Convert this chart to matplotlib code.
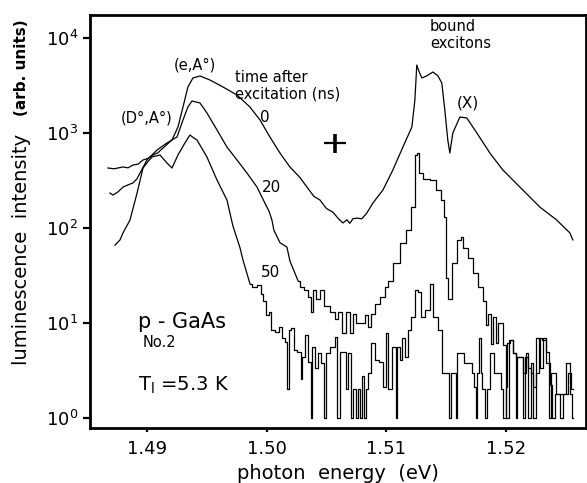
#!/usr/bin/env python
# coding: utf-8

# Time-resolved luminescence spectra of p-GaAs (sample No.2) at 5.3 K

import numpy             as np
import matplotlib        as mpl
mpl.use("Agg")
import matplotlib.pyplot as plt


# Spectrum right after excitation (0 ns)
energy_0ns = [1.48674, 1.48725, 1.48800, 1.48842, 1.48883, 1.48925, 1.48967,
              1.49008, 1.49050, 1.49092, 1.49134, 1.49209,
              1.49259, 1.49301, 1.49342, 1.49384, 1.49443, 1.49526, 1.49635,
              1.49752, 1.49860, 1.49944, 1.50027, 1.50111, 1.50194, 1.50278,
              1.50336, 1.50395, 1.50445, 1.50500, 1.50553, 1.50600, 1.50637,
              1.50670, 1.50695, 1.50720, 1.50754, 1.50795, 1.50837,
              1.50887, 1.50971, 1.51054, 1.51138, 1.51213, 1.51238, 1.51254,
              1.51271, 1.51296, 1.51338, 1.51388, 1.51430, 1.51463, 1.51488,
              1.51513, 1.51530, 1.51555, 1.51614, 1.51672, 1.51756, 1.51864,
              1.51973, 1.52140, 1.52282, 1.52424, 1.52490, 1.52532, 1.52557]
counts_0ns = [428, 420, 439, 430, 460, 470, 520,
              540, 587, 620, 695, 844,
              1157, 1878, 3050, 3793, 3981, 3613, 3050,
              2512, 1878, 1371, 908, 616, 439, 340,
              270, 215, 197, 160, 147, 125, 113,
              122, 112, 125, 127, 125, 144,
              183, 251, 408, 712, 1157, 2225, 5196,
              4500, 3793, 4000, 4385, 4000, 3360, 1746,
              844, 616, 1000, 1473, 1438, 1000, 616,
              408, 251, 166, 121, 100, 89, 75]

# 20 ns after excitation: smooth part and noisy tail
energy_20ns = [1.48691, 1.48716, 1.48758, 1.48800, 1.48858, 1.48883, 1.48917,
               1.48942, 1.49000, 1.49084, 1.49167, 1.49251, 1.49301, 1.49342,
               1.49376, 1.49443, 1.49501, 1.49585, 1.49668, 1.49752, 1.49835,
               1.49919, 1.49985, 1.50020, 1.50044, 1.50060, 1.50111, 1.50169,
               1.50194, 1.50261]
counts_20ns = [233, 222, 240, 270, 290, 298, 330,
               379, 520, 662, 785, 908, 1371, 1878,
               2173, 2070, 1624, 1076, 712, 520, 379,
               270, 183, 150, 121, 95, 70, 63,
               45, 28]

energy_20ns_tail = [1.50261, 1.50294, 1.50328, 1.50361, 1.50378, 1.50403, 1.50428,
                    1.50461, 1.50503, 1.50553, 1.50586, 1.50611, 1.50653, 1.50678,
                    1.50712, 1.50737, 1.50762, 1.50804, 1.50837, 1.50862, 1.50887,
                    1.50920, 1.50970, 1.51004, 1.51029, 1.51087, 1.51138, 1.51196,
                    1.51221, 1.51254, 1.51263, 1.51280, 1.51338, 1.51388, 1.51446,
                    1.51471, 1.51488, 1.51505, 1.51530, 1.51572, 1.51614, 1.51630,
                    1.51655, 1.51714, 1.51739, 1.51797, 1.51822, 1.51839, 1.51864,
                    1.51881, 1.51906, 1.51923, 1.51940, 1.51964, 1.51989, 1.52014,
                    1.52031, 1.52048, 1.52073, 1.52090, 1.52098, 1.52131, 1.52148,
                    1.52173, 1.52198, 1.52215, 1.52240, 1.52265, 1.52282, 1.52324,
                    1.52349, 1.52366, 1.52391, 1.52449, 1.52507, 1.52532, 1.52557]
counts_20ns_tail = [28, 24, 22, 19, 13, 22, 18,
                    22, 15, 13, 11, 13, 7.8, 13,
                    7.8, 12.5, 10, 10, 12, 9, 12.5,
                    16, 19, 24, 28, 43, 70, 95,
                    166, 587, 616, 379, 330, 320, 251,
                    197, 131, 30, 18, 43, 75, 80,
                    62, 48, 34, 24, 17, 9.5, 12.5,
                    6.0, 11.6, 6.2, 10, 10, 5.9, 1.0,
                    6.6, 6.6, 4.8, 1.0, 4.4, 4.4, 1.0,
                    4.4, 1.0, 3.8, 1.0, 3.0, 7.0, 6.6,
                    5.0, 1.0, 3.0, 1.8, 1.8, 3.0, 2.0]

# 50 ns after excitation: smooth part and noisy tail
energy_50ns = [1.48733, 1.48775, 1.48800, 1.48858, 1.48917, 1.48967, 1.49008,
               1.49042, 1.49109, 1.49167, 1.49209, 1.49259, 1.49317, 1.49359,
               1.49384, 1.49418, 1.49501, 1.49585, 1.49668, 1.49718, 1.49777,
               1.49802, 1.49860]
counts_50ns = [66, 75, 89, 121, 233, 428, 500,
               559, 587, 483, 428, 587, 785, 953,
               900, 844, 559, 320, 197, 105, 62,
               46, 26]

energy_50ns_tail = [1.49860, 1.49902, 1.49944, 1.49960, 1.49985, 1.50010, 1.50027,
                    1.50052, 1.50085, 1.50127, 1.50136, 1.50169, 1.50177, 1.50194,
                    1.50219, 1.50236, 1.50278, 1.50294, 1.50303, 1.50336, 1.50361,
                    1.50378, 1.50386, 1.50420, 1.50445, 1.50470, 1.50486, 1.50511,
                    1.50553, 1.50586, 1.50595, 1.50628, 1.50653, 1.50670, 1.50695,
                    1.50711, 1.50737, 1.50754, 1.50770, 1.50787, 1.50804, 1.50821,
                    1.50837, 1.50862, 1.50887, 1.50920, 1.50962, 1.50987, 1.51004,
                    1.51029, 1.51071, 1.51087, 1.51096, 1.51129, 1.51138, 1.51171,
                    1.51196, 1.51221, 1.51254, 1.51280, 1.51305, 1.51346, 1.51380,
                    1.51405, 1.51463, 1.51471, 1.51513, 1.51530, 1.51546, 1.51572,
                    1.51588, 1.51597, 1.51638, 1.51655, 1.51714, 1.51722, 1.51739,
                    1.51756, 1.51764, 1.51781, 1.51797, 1.51806, 1.51839, 1.51847,
                    1.51889, 1.51906, 1.51948, 1.51964, 1.51989, 1.52006, 1.52014,
                    1.52048, 1.52073, 1.52098, 1.52131, 1.52157, 1.52173, 1.52198,
                    1.52215, 1.52240, 1.52265, 1.52299, 1.52324, 1.52349, 1.52382,
                    1.52391, 1.52433, 1.52466, 1.52491, 1.52516, 1.52549, 1.52557]
counts_50ns_tail = [26, 24, 25, 20, 17, 12, 13,
                    8.4, 8.0, 9.1, 7.0, 6.3, 2.0, 8.4,
                    8.9, 5.2, 5.0, 2.6, 4.4, 7.5, 3.9,
                    1.0, 5.6, 3.4, 4.8, 3.8, 1.0, 4.8,
                    5.6, 7.1, 1.0, 5.0, 5.0, 2.0, 4.8,
                    1.0, 2.0, 1.0, 2.0, 1.0, 2.8, 1.0,
                    2.0, 3.0, 6.2, 4.1, 3.9, 2.1, 7.8,
                    2.0, 5.6, 1.0, 5.6, 4.1, 7.0, 4.4,
                    8.4, 11.6, 22, 21, 11.6, 13.7, 26,
                    11.6, 8.4, 3.0, 3.0, 1.0, 3.0, 3.0,
                    1.0, 4.8, 4.8, 3.8, 3.8, 3.0, 2.1,
                    1.0, 3.0, 7.0, 3.0, 2.0, 1.0, 2.0,
                    4.8, 3.0, 3.0, 2.0, 1.0, 2.1, 6.2,
                    6.6, 4.8, 4.4, 4.4, 3.0, 4.8, 3.4,
                    3.0, 2.1, 7.0, 3.4, 7.0, 3.8, 2.2,
                    1.0, 1.8, 1.0, 1.8, 3.8, 1.8, 1.0]

# Spectral resolution / error cross
res_energy = 1.5057
res_counts = 785
res_dE     = 0.0009
res_low, res_high = 616, 986

xticks = [1.49, 1.50, 1.51, 1.52]
xtick_labels = ["1.49", "1.50", "1.51", "1.52"]
yticks = [1, 10, 100, 1000, 10000]


plt.rcParams['font.family'] = ['DejaVu Sans']

fig = plt.figure(figsize=(5.87, 4.83), dpi=100)
ax = fig.add_axes([0.1533, 0.1139, 0.8447, 0.8551])

lw = 0.9
ax.plot(energy_0ns, counts_0ns, color='black', lw=lw)
ax.plot(energy_20ns, counts_20ns, color='black', lw=lw)
ax.plot(energy_20ns_tail, counts_20ns_tail, color='black', lw=lw, drawstyle='steps-mid')
ax.plot(energy_50ns, counts_50ns, color='black', lw=lw)
ax.plot(energy_50ns_tail, counts_50ns_tail, color='black', lw=lw, drawstyle='steps-mid')

# resolution cross
ax.plot([res_energy - res_dE, res_energy + res_dE], [res_counts, res_counts],
        color='black', lw=1.6, solid_capstyle='butt')
ax.plot([res_energy, res_energy], [res_low, res_high],
        color='black', lw=2.6, solid_capstyle='butt')

ax.set_yscale('log')
ax.set_xlim(1.48524, 1.52666)
ax.set_ylim(0.785, 17470)
ax.set_xticks(xticks)
ax.set_xticklabels(xtick_labels)
ax.set_yticks(yticks)
ax.yaxis.set_minor_locator(mpl.ticker.NullLocator())
ax.tick_params(axis='both', which='major', direction='out', length=5, width=1.6,
               labelsize=13, colors='black')
ax.tick_params(axis='x', length=3, pad=6)

for side in ['left', 'bottom', 'top', 'right']:
    ax.spines[side].set_linewidth(2.0)

# annotations
ax.text(1.49401, 5196, "(e,A°)", ha='center', va='center', fontsize=10.5)
ax.text(1.49000, 1438, "(D°,A°)", ha='center', va='center', fontsize=10.5)
ax.text(1.49735, 3793, "time after", ha='left', va='center', fontsize=10.5)
ax.text(1.49735, 2570, "excitation (ns)", ha='left', va='center', fontsize=10.5)
ax.text(1.49985, 1473, "0", ha='center', va='center', fontsize=11)
ax.text(1.50044, 264, "20", ha='center', va='center', fontsize=11)
ax.text(1.50035, 34, "50", ha='center', va='center', fontsize=11)
ax.text(1.51363, 13060, "bound", ha='left', va='center', fontsize=10.5)
ax.text(1.51363, 8855, "excitons", ha='left', va='center', fontsize=10.5)
ax.text(1.51680, 2070, "(X)", ha='center', va='center', fontsize=11)
ax.text(1.48925, 10.2, "p - GaAs", ha='left', va='center', fontsize=15)
ax.text(1.48967, 6.3, "No.2", ha='left', va='center', fontsize=10.5)
ax.text(1.48925, 2.22, r"T$_\mathrm{l}$ =5.3 K", ha='left', va='center', fontsize=14)

ax.set_xlabel("photon  energy  (eV)", fontsize=14, labelpad=4)

# y label: plain part and bold part
fig.text(22 / 587, 1 - 365 / 483, "luminescence  intensity ", rotation=90,
         ha='center', va='bottom', fontsize=14)
fig.text(22 / 587, 1 - 116 / 483, "(arb. units)", rotation=90,
         ha='center', va='bottom', fontsize=11, fontweight='bold',
         family=['Liberation Sans Narrow', 'DejaVu Sans'])

plt.savefig("out.png", dpi=100)
